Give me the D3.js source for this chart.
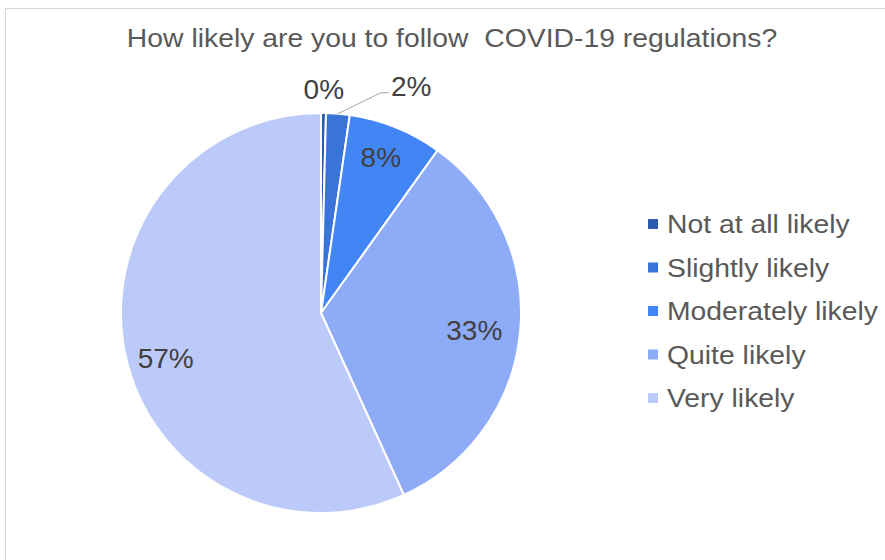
<!DOCTYPE html>
<html><head><meta charset="utf-8">
<script src="https://cdn.jsdelivr.net/npm/d3@7"></script>
<style>body{margin:0;background:#fff}svg{display:block;font-family:"Liberation Sans",Arial,sans-serif}</style>
</head><body><svg id="c" width="885" height="560"></svg>
<script>
const categories = ["Not at all likely","Slightly likely","Moderately likely","Quite likely","Very likely"];
const values = [0.4, 1.9, 7.6, 33.3, 56.8];
const labels = ["0%","2%","8%","33%","57%"];
const colors = ["#2c5cb0","#3a74d8","#4285f4","#8eabf7","#bccafa"];
const title = "How likely are you to follow  COVID-19 regulations?";

const tc = "#404040";
const svg = d3.select("#c");
function txt(parent, x, y, s, opts={}) {
  return parent.append("text")
    .attr("transform", `translate(${x},${y}) scale(${opts.sx || 1},1)`)
    .attr("text-anchor", opts.anchor || "middle")
    .attr("dy", opts.dy || "0.35em")
    .attr("font-size", opts.size || 28)
    .attr("fill", opts.fill || tc)
    .style("white-space","pre")
    .text(s);
}
// frame
svg.append("rect").attr("x",5.5).attr("y",8.5).attr("width",900).attr("height",600)
  .attr("fill","none").attr("stroke","#d9d9d9").attr("stroke-width",1);

txt(svg, 452, 47, title, {fill:"#595959", size:26, sx:1.09, dy:"0"});

const cx=321, cy=313, r=200;
const g = svg.append("g").attr("transform",`translate(${cx},${cy})`);
const pie = d3.pie().sort(null).value(d=>d);
const arcs = pie(values);
const arc = d3.arc().innerRadius(0).outerRadius(r);
g.selectAll("path").data(arcs).join("path").attr("d",arc)
  .attr("fill",(d,i)=>colors[i]).attr("stroke","#fff").attr("stroke-width",2);

// inside labels
const inner = [[2,0.84,-3,0],[3,0.785,-3,2],[4,0.82,5,10]];
inner.forEach(([i,k,dx,dy])=>{
  const c = d3.arc().innerRadius(r*k).outerRadius(r*k).centroid(arcs[i]);
  txt(g, c[0]+dx, c[1]+dy, labels[i]);
});
// outside labels
const c0 = d3.arc().innerRadius(r*1.12).outerRadius(r*1.12).centroid(arcs[0]);
txt(g, c0[0], c0[1], labels[0]);
const a1 = arcs[1];
const m1 = (a1.startAngle+a1.endAngle)/2;
const p0 = [Math.sin(m1)*r, -Math.cos(m1)*r];
const p1 = [p0[0]+43, p0[1]-21];
g.append("polyline").attr("points",[p0,p1,[p1[0]+8,p1[1]]].map(p=>p.join(",")).join(" "))
  .attr("fill","none").attr("stroke","#a6a6a6").attr("stroke-width",1);
txt(g, p1[0]+10, p1[1]-7, labels[1], {anchor:"start"});

// legend
const lg = svg.append("g").attr("transform","translate(648,224)");
const rows = lg.selectAll("g").data(categories).join("g").attr("transform",(d,i)=>`translate(0,${i*43.5})`);
rows.append("rect").attr("x",0).attr("y",-5).attr("width",10).attr("height",10).attr("fill",(d,i)=>colors[i]);
rows.each(function(d){ txt(d3.select(this), 19, 0, d, {anchor:"start", fill:"#595959", size:26, sx:1.09}); });
</script></body></html>
